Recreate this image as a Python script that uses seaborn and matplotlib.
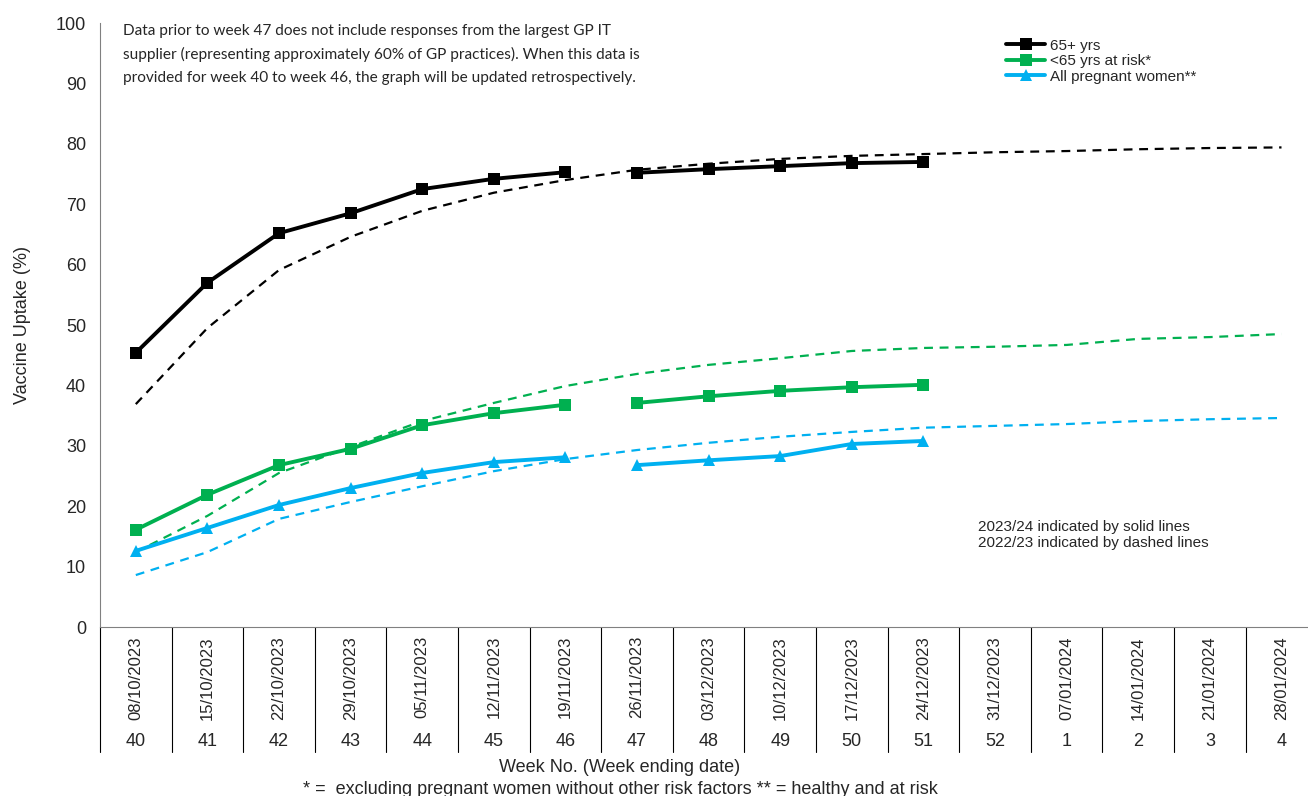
import numpy as np
import pandas as pd
import matplotlib.pyplot as plt
import seaborn as sns
from matplotlib.lines import Line2D
import matplotlib.transforms as mtransforms

# x axis categories
week_dates = ["08/10/2023", "15/10/2023", "22/10/2023", "29/10/2023", "05/11/2023",
              "12/11/2023", "19/11/2023", "26/11/2023", "03/12/2023", "10/12/2023",
              "17/12/2023", "24/12/2023", "31/12/2023", "07/01/2024", "14/01/2024",
              "21/01/2024", "28/01/2024"]
week_nums = ["40", "41", "42", "43", "44", "45", "46", "47", "48", "49", "50", "51",
             "52", "1", "2", "3", "4"]

# 2023/24 season (solid), weeks 40-51; break between 46 and 47
over65_2324 = [45.4, 57.0, 65.2, 68.5, 72.5, 74.2, 75.3, 75.2, 75.8, 76.3, 76.8, 77.0]
atrisk_2324 = [16.1, 21.9, 26.8, 29.5, 33.4, 35.4, 36.8, 37.1, 38.2, 39.1, 39.7, 40.1]
pregnant_2324 = [12.6, 16.4, 20.2, 23.0, 25.5, 27.3, 28.1, 26.8, 27.6, 28.3, 30.3, 30.8]
segment_2324 = [1, 1, 1, 1, 1, 1, 1, 2, 2, 2, 2, 2]

# 2022/23 season (dashed), all weeks
over65_2223 = [36.9, 49.5, 59.1, 64.6, 68.9, 71.9, 74.0, 75.7, 76.7, 77.5, 78.0, 78.3,
               78.6, 78.8, 79.1, 79.3, 79.4]
atrisk_2223 = [12.4, 18.4, 25.5, 29.8, 34.1, 37.1, 39.9, 41.9, 43.4, 44.5, 45.7, 46.2,
               46.4, 46.7, 47.7, 48.0, 48.5]
pregnant_2223 = [8.6, 12.4, 17.9, 20.7, 23.3, 25.8, 27.8, 29.3, 30.5, 31.5, 32.3, 33.0,
                 33.3, 33.6, 34.1, 34.4, 34.6]

groups = ["65+ yrs", "<65 yrs at risk*", "All pregnant women**"]
colors = {"65+ yrs": "#000000", "<65 yrs at risk*": "#00B050", "All pregnant women**": "#00B0F0"}
markers = {"65+ yrs": "s", "<65 yrs at risk*": "s", "All pregnant women**": "^"}

cur = pd.concat([
    pd.DataFrame({"pos": range(len(v)), "value": v, "group": g, "segment": segment_2324})
    for g, v in zip(groups, [over65_2324, atrisk_2324, pregnant_2324])
])
prev = pd.concat([
    pd.DataFrame({"pos": range(len(v)), "value": v, "group": g})
    for g, v in zip(groups, [over65_2223, atrisk_2223, pregnant_2223])
])

sns.set_style("white")
plt.rcParams["font.family"] = ["Liberation Sans", "DejaVu Sans"]

fig = plt.figure(figsize=(13.08, 7.96), dpi=100)
ax = fig.add_axes([100 / 1308, 1 - 627 / 796, 1 - 100 / 1308, (627 - 23) / 796])

sns.lineplot(data=prev, x="pos", y="value", hue="group", palette=colors,
             linestyle=(0, (4, 3)), linewidth=1.6, legend=False, ax=ax)
sns.lineplot(data=cur, x="pos", y="value", hue="group", style="group", palette=colors,
             units="segment", estimator=None, markers=markers, dashes=False,
             linewidth=2.8, markersize=9, markeredgewidth=0, legend=False, ax=ax)

ax.set_ylim(0, 100)
ax.set_yticks(range(0, 101, 10))
ax.set_xlim(-0.5, 16.37)
ax.set_xticks([])
ax.set_xlabel("")
ax.set_ylabel("Vaccine Uptake (%)", fontsize=13, labelpad=18)
ax.tick_params(axis="y", direction="out", length=5, width=0.8, color="#808080",
               labelsize=13, pad=5)
for s in ["top", "right"]:
    ax.spines[s].set_visible(False)
ax.spines["left"].set_color("#808080")
ax.spines["bottom"].set_color("#808080")

# category table under the axis
trans = mtransforms.blended_transform_factory(ax.transData, ax.transAxes)
px = 1 / (627 - 23)
for i in range(len(week_dates) + 1):
    ax.plot([i - 0.5, i - 0.5], [0, -125 * px], transform=trans, color="black",
            linewidth=0.8, clip_on=False)
for i, (d, w) in enumerate(zip(week_dates, week_nums)):
    ax.text(i, -9 * px, d, transform=trans, rotation=90, ha="center", va="top",
            fontsize=12)
    ax.text(i, -115 * px, w, transform=trans, ha="center", va="center", fontsize=13)

fig.text(620 / 1308, 1 - 768 / 796, "Week No. (Week ending date)", ha="center",
         va="center", fontsize=13)
fig.text(620 / 1308, 1 - 789 / 796,
         "* =  excluding pregnant women without other risk factors ** = healthy and at risk",
         ha="center", va="center", fontsize=13)

fig.text(123 / 1308, 1 - 24 / 796,
         "Data prior to week 47 does not include responses from the largest GP IT\n"
         "supplier (representing approximately 60% of GP practices). When this data is\n"
         "provided for week 40 to week 46, the graph will be updated retrospectively.",
         ha="left", va="top", fontsize=11.1, family=["Lato", "DejaVu Sans"],
         linespacing=1.78)

fig.text(978 / 1308, 1 - 535 / 796, "2023/24 indicated by solid lines\n2022/23 indicated by dashed lines",
         ha="left", va="center", fontsize=11, linespacing=1.25)

handles = [Line2D([], [], color=colors[g], marker=markers[g], linewidth=2.8,
                  markersize=8, markeredgewidth=0) for g in groups]
fig.legend(handles, groups, loc="upper left", bbox_to_anchor=(998 / 1308, 1 - 31 / 796),
           frameon=False, fontsize=11, handlelength=2.6, handletextpad=0.3,
           labelspacing=0.1, borderpad=0)

fig.savefig("out.png", dpi=100)
